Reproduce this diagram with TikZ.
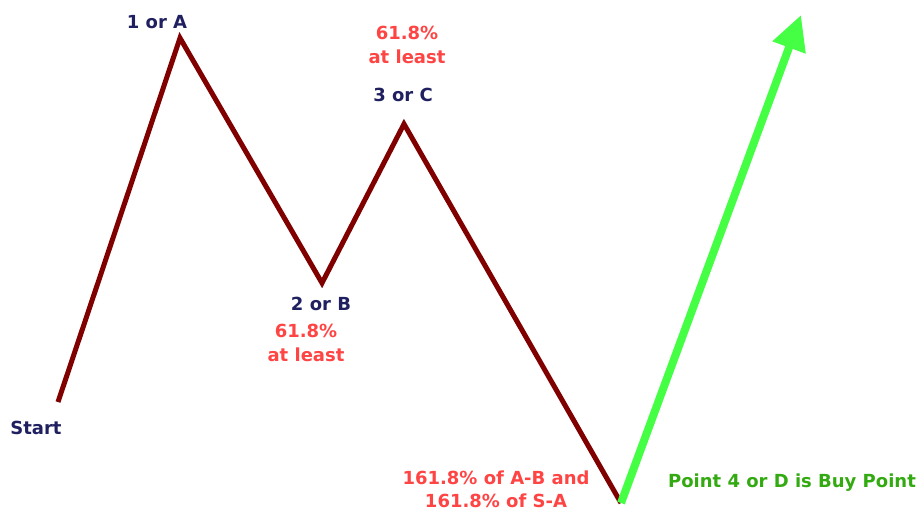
\documentclass[tikz,border=0pt]{standalone}
\usepackage{fontspec}
\setmainfont{DejaVu Sans}
\usetikzlibrary{arrows.meta}
\definecolor{wave}{HTML}{800000}
\definecolor{buy}{HTML}{44FF44}
\definecolor{navy}{HTML}{202060}
\definecolor{lbred}{HTML}{FF4444}
\definecolor{lbgreen}{HTML}{33AA11}
\tikzset{
  lbl/.style={font=\bfseries\fontsize{13.5}{17.5}\selectfont, inner sep=0pt, align=center},
  pt/.style={lbl, text=navy},
  rd/.style={lbl, text=lbred},
  gr/.style={lbl, text=lbgreen},
  waveline/.style={draw=wave, line width=3.75pt, line join=miter},
  buyline/.style={draw=buy, line width=6pt, -{Triangle[length=26pt,width=25pt]}}
}
\begin{document}
\begin{tikzpicture}[x=0.75pt,y=-0.75pt]
\useasboundingbox (0,0) rectangle (923,510);
\coordinate (S) at (58,402);
\coordinate (A) at (180,38);
\coordinate (B) at (322,283);
\coordinate (C) at (404,124);
\coordinate (D) at (621,503);
\coordinate (E) at (801,15);
\draw[waveline] (S) -- (A) -- (B) -- (C) -- (D);
\draw[buyline] (D) -- (E);
\node[pt] (lA) at (157,22) {1 or A};
\node[pt] (lS) at (36,428) {Start};
\node[pt] (lB) at (321,304) {2 or B};
\node[rd] (rB) at (306,343) {61.8\%\\at least};
\node[rd] (rC) at (407,45) {61.8\%\\at least};
\node[pt] (lC) at (403,95) {3 or C};
\node[rd] (rD) at (496,489) {161.8\% of A-B and\\161.8\% of S-A};
\node[gr] (lD) at (792,483) {Point 4 or D is Buy Point};
\end{tikzpicture}
\end{document}
